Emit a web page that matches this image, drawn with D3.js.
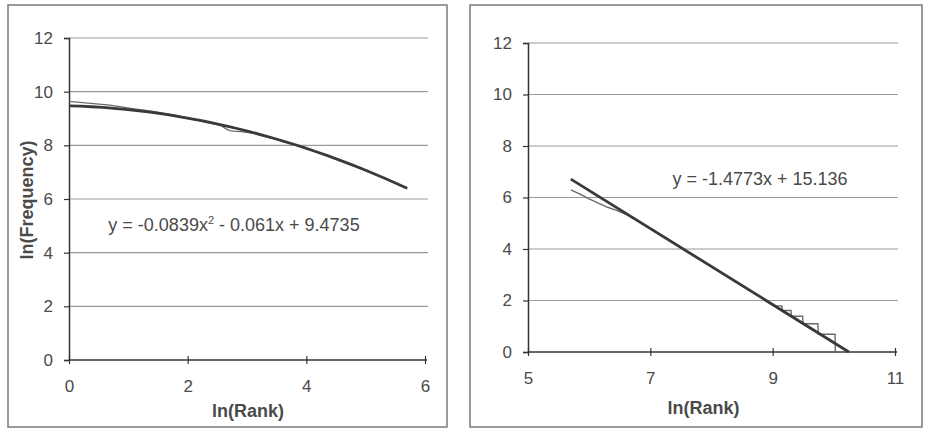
<!DOCTYPE html>
<html><head><meta charset="utf-8">
<script src="https://cdn.jsdelivr.net/npm/d3@7"></script>
<style>body{margin:0;background:#fff}svg{display:block;font-family:"Liberation Sans",Arial,sans-serif}</style>
</head><body><svg id="c" width="929" height="431"></svg>
<script>
// Left panel data: ln(Rank) vs ln(Frequency)
const leftX = [0,0.69,1.10,1.39,1.61,1.79,1.95,2.08,2.20,2.30,2.40,2.48,2.56,2.64,2.71,2.77,2.83,2.89,2.94,3.00,3.09,3.18,3.30,3.40,3.50,3.61,3.71,3.81,3.91,4.01,4.09,4.20,4.30,4.38,4.50,4.61,4.70,4.79,4.88,5.01,5.16,5.30,5.44,5.56,5.70];
const leftY = [9.64,9.50,9.36,9.27,9.19,9.12,9.04,8.98,8.92,8.86,8.82,8.78,8.74,8.62,8.55,8.53,8.52,8.51,8.50,8.49,8.46,8.40,8.33,8.27,8.22,8.15,8.08,8.02,7.95,7.88,7.82,7.73,7.66,7.60,7.50,7.42,7.34,7.27,7.16,7.05,6.93,6.79,6.66,6.54,6.38];
const leftTrendCoef = [-0.0839, -0.061, 9.4735]; // a x^2 + b x + c
const leftTrendRange = [0, 5.70];
const leftXTicks = [0,2,4,6];
const leftYTicks = [0,2,4,6,8,10,12];

// Right panel data
const rightX = [5.70,5.86,6.00,6.15,6.30,6.45,6.60,6.80,7.00,7.20,7.40,7.60,7.80,8.00,8.20,8.40,8.60,8.80,9.00,9.03,9.15,9.155,9.30,9.305,9.49,9.495,9.74,9.745,10.02,10.025,10.30];
const rightY = [6.30,6.12,5.95,5.78,5.62,5.50,5.35,5.08,4.80,4.50,4.22,3.91,3.62,3.32,3.03,2.73,2.43,2.14,1.84,1.79,1.79,1.61,1.61,1.39,1.39,1.10,1.10,0.69,0.69,0,0];
const rightTrendCoef = [-1.4773, 15.136]; // m x + b
const rightTrendRange = [5.70, 10.246];
const rightXTicks = [5,7,9,11];
const rightYTicks = [0,2,4,6,8,10,12];

const svg = d3.select("#c");
const textCol = "#4a4a4a";

function panel(o){
  const g = svg.append("g");
  g.append("rect").attr("x",o.frame[0]).attr("y",o.frame[1]).attr("width",o.frame[2]).attr("height",o.frame[3])
    .attr("fill","none").attr("stroke","#7a7a7a").attr("stroke-width",1.5);
  const x = d3.scaleLinear().domain(o.xd).range([o.x0,o.x1]);
  const y = d3.scaleLinear().domain([0,12]).range([o.y0,o.y1]);
  // gridlines
  g.append("g").selectAll("line").data(o.yTicks.filter(d=>d>0)).join("line")
    .attr("x1",o.x0).attr("x2",o.x1+3).attr("y1",d=>y(d)).attr("y2",d=>y(d))
    .attr("stroke","#9a9a9a").attr("stroke-width",1.2);
  // y axis
  const ya = g.append("g").attr("transform",`translate(${o.x0},0)`)
    .call(d3.axisLeft(y).tickValues(o.yTicks).tickSize(5).tickPadding(11).tickFormat(d3.format("d")));
  ya.select(".domain").attr("stroke","#333").attr("stroke-width",1.5);
  ya.selectAll(".tick line").attr("stroke","#333").attr("stroke-width",1.2);
  ya.selectAll("text").attr("font-size",17).attr("fill",textCol).attr("font-family","Liberation Sans, Arial, sans-serif");
  // x axis
  const xa = g.append("g").attr("transform",`translate(0,${o.y0})`)
    .call(d3.axisBottom(x).tickValues(o.xTicks).tickSize(4).tickPadding(16).tickFormat(d3.format("d")));
  xa.select(".domain").attr("d",`M${o.x0},0H${o.x1+2}`).attr("stroke","#333").attr("stroke-width",1.5);
  xa.selectAll(".tick line").attr("y1",-4).attr("stroke","#333").attr("stroke-width",1.2);
  xa.selectAll("text").attr("font-size",17).attr("fill",textCol).attr("font-family","Liberation Sans, Arial, sans-serif");
  // data line
  const pts = o.xs.map((v,i)=>[v,o.ys[i]]);
  const line = d3.line().x(d=>x(d[0])).y(d=>y(d[1]));
  g.append("path").attr("d",line(pts)).attr("fill","none").attr("stroke","#6a6a6a").attr("stroke-width",1.4);
  // trend line
  g.append("path").attr("d",line(o.trend)).attr("fill","none").attr("stroke","#3a3a3a").attr("stroke-width",2.8).attr("stroke-linejoin","round");
  // x title
  g.append("text").attr("x",(o.x0+o.x1)/2+o.xtOff).attr("y",o.xtY).attr("text-anchor","middle")
    .attr("font-weight","bold").attr("font-size",18).attr("fill",textCol).text("ln(Rank)");
  return {g,x,y};
}

// trend samples
const lt = d3.range(0,31).map(i=>{const v=leftTrendRange[0]+(leftTrendRange[1]-leftTrendRange[0])*i/30;
  return [v, leftTrendCoef[0]*v*v+leftTrendCoef[1]*v+leftTrendCoef[2]];});
const rt = rightTrendRange.map(v=>[v, rightTrendCoef[0]*v+rightTrendCoef[1]]);

const L = panel({frame:[8,5,439,422],xd:[0,6],x0:69,x1:425,y0:360,y1:38,xTicks:leftXTicks,yTicks:leftYTicks,
  xs:leftX,ys:leftY,trend:lt,xtOff:1,xtY:417});
L.g.append("text").attr("transform","translate(33,200) rotate(-90)").attr("text-anchor","middle")
  .attr("font-weight","bold").attr("font-size",18).attr("fill",textCol).text("ln(Frequency)");
const eq1 = L.g.append("text").attr("x",234).attr("y",231).attr("text-anchor","middle").attr("font-size",18).attr("fill",textCol);
eq1.append("tspan").text("y = -0.0839x");
eq1.append("tspan").attr("dy",-7).attr("font-size",11).text("2");
eq1.append("tspan").attr("dy",7).text(" - 0.061x + 9.4735");

const R = panel({frame:[470,5,452,422],xd:[5,11],x0:528,x1:895,y0:352,y1:43,xTicks:rightXTicks,yTicks:rightYTicks,
  xs:rightX,ys:rightY,trend:rt,xtOff:-8,xtY:414});
R.g.append("text").attr("x",760).attr("y",185).attr("text-anchor","middle").attr("font-size",18).attr("fill",textCol)
  .text("y = -1.4773x + 15.136");
</script></body></html>
